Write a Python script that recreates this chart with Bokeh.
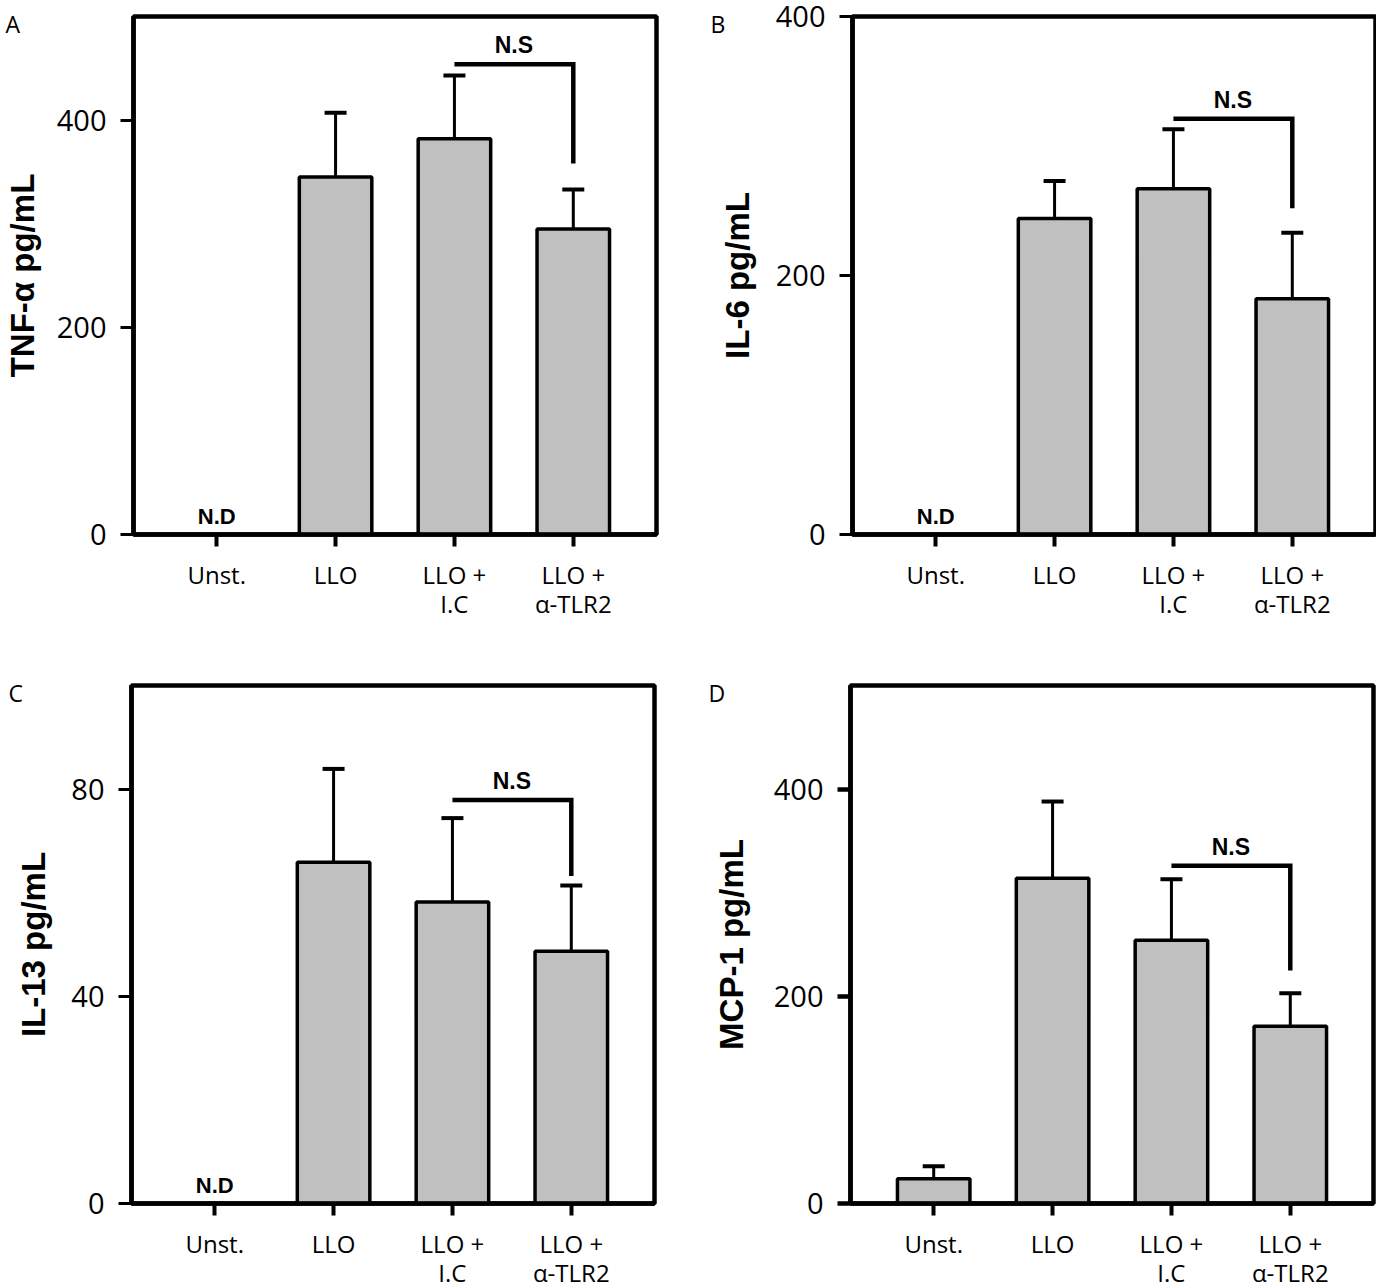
from bokeh.plotting import figure
from bokeh.layouts import column, row
from bokeh.models import FixedTicker, Range1d, ColumnDataSource, Title
from bokeh.core.properties import value
from bokeh.embed import file_html
from bokeh.resources import INLINE

# ---------------- data ----------------
categories = ["Unst.", "LLO", "LLO +\nI.C", "LLO +\n\u03b1-TLR2"]
panel_letters = ["A", "B", "C", "D"]
y_titles = ["TNF-\u03b1 pg/mL", "IL-6 pg/mL", "IL-13 pg/mL", "MCP-1 pg/mL"]

tnf_mean = [0, 345, 382, 295]
tnf_err = [0, 62, 61, 38]
il6_mean = [0, 244, 267, 182]
il6_err = [0, 29, 46, 51]
il13_mean = [0, 65.9, 58.2, 48.7]
il13_err = [0, 18.0, 16.2, 12.7]
mcp1_mean = [24, 314, 254, 171]
mcp1_err = [12, 74, 59, 32]

# detected (False -> "N.D")
tnf_detected = [False, True, True, True]
il6_detected = [False, True, True, True]
il13_detected = [False, True, True, True]
mcp1_detected = [True, True, True, True]

y_max = [500, 400, 100, 500]
y_ticks = [[0, 200, 400], [0, 200, 400], [0, 40, 80], [0, 200, 400]]

# N.S bracket between LLO + I.C and LLO + a-TLR2 (bar height, drop end)
ns_bar_y = [454, 321, 77.9, 326]
ns_drop_y = [358, 252, 63.2, 225]

means = [tnf_mean, il6_mean, il13_mean, mcp1_mean]
errs = [tnf_err, il6_err, il13_err, mcp1_err]
detected = [tnf_detected, il6_detected, il13_detected, mcp1_detected]

# ---------------- styling ----------------
FRAME_W = 523
FRAME_H = 518
X0, X1 = 0.3, 4.7
BAR_FILL = "#c0c0c0"
TICK_FONT = "Open Sans"
BOLD_FONT = "Liberation Sans"

# (border left, border right, border top, border bottom)
borders = [(131, 54, 16, 126), (142, 3, 16, 126), (131, 54, 25, 80), (142, 3, 25, 80)]
letter_offset = [-128, -142, -123, -142]
ytitle_standoff = [13, 17, 16, 21]
ytick_width = [3, 3, 3, 4.5]


def make_panel(i):
    bl, br, bt, bb = borders[i]
    ymax = y_max[i]

    p = figure(frame_width=FRAME_W, frame_height=FRAME_H,
               output_backend="svg", toolbar_location=None,
               x_range=Range1d(X0, X1), y_range=Range1d(0, ymax),
               min_border_left=bl, min_border_right=br,
               min_border_top=bt, min_border_bottom=bb)
    p.background_fill_color = "white"
    p.border_fill_color = "white"
    p.xgrid.visible = False
    p.ygrid.visible = False
    p.outline_line_color = "black"
    p.outline_line_width = 4.5

    # panel letter
    t = Title(text=panel_letters[i], align="left", offset=letter_offset[i],
              standoff=-46, text_font=TICK_FONT, text_font_style="normal",
              text_font_size="23px", text_color="black")
    p.add_layout(t, "above")

    pos = [k + 1 for k in range(len(categories))]
    m = means[i]
    e = errs[i]
    d = detected[i]

    bx = [pos[k] for k in range(len(pos)) if d[k]]
    bm = [m[k] for k in range(len(pos)) if d[k]]
    be = [m[k] + e[k] for k in range(len(pos)) if d[k]]
    src = ColumnDataSource(dict(x=bx, top=bm, etop=be))

    p.vbar(x="x", top="top", bottom=0, width=0.61, source=src,
           fill_color=BAR_FILL, line_color="black", line_width=3.5)
    p.segment(x0="x", y0="top", x1="x", y1="etop", source=src,
              line_color="black", line_width=3)
    p.scatter(x="x", y="etop", marker="dash", size=22, source=src,
              line_color="black", line_width=4)

    # N.D labels
    ndx = [pos[k] for k in range(len(pos)) if not d[k]]
    if ndx:
        p.text(x=ndx, y=[0] * len(ndx), text=["N.D"] * len(ndx),
               text_font=value(BOLD_FONT), text_font_style="bold",
               text_font_size="22px", text_align="center",
               text_baseline="bottom", y_offset=-6, text_color="black")

    # N.S bracket
    x3, x4 = pos[2], pos[3]
    p.line(x=[x3, x4, x4], y=[ns_bar_y[i], ns_bar_y[i], ns_drop_y[i]],
           line_color="black", line_width=4.5, line_join="miter")
    p.text(x=[(x3 + x4) / 2], y=[ns_bar_y[i]], text=["N.S"],
           text_font=value(BOLD_FONT), text_font_style="bold",
           text_font_size="23px", text_align="center",
           text_baseline="bottom", y_offset=-6, text_color="black")

    # y axis
    yax = p.yaxis[0]
    yax.ticker = FixedTicker(ticks=y_ticks[i])
    yax.minor_tick_line_color = None
    yax.major_tick_in = 0
    yax.major_tick_out = 13
    yax.major_tick_line_width = ytick_width[i]
    yax.major_tick_line_color = "black"
    yax.axis_line_width = 4.5
    yax.axis_line_color = "black"
    yax.major_label_text_font = TICK_FONT
    yax.major_label_text_font_size = "29px"
    yax.major_label_text_color = "black"
    yax.major_label_standoff = 14
    yax.axis_label = y_titles[i]
    yax.axis_label_text_font = BOLD_FONT
    yax.axis_label_text_font_style = "bold"
    yax.axis_label_text_font_size = "33px"
    yax.axis_label_text_color = "black"
    yax.axis_label_standoff = ytitle_standoff[i]

    # x axis
    xax = p.xaxis[0]
    xax.ticker = FixedTicker(ticks=pos)
    xax.minor_tick_line_color = None
    xax.major_tick_in = 0
    xax.major_tick_out = 12
    xax.major_tick_line_width = 4
    xax.major_tick_line_color = "black"
    xax.axis_line_width = 4.5
    xax.axis_line_color = "black"
    xax.major_label_overrides = {pos[k]: categories[k] for k in range(len(pos))}
    xax.major_label_text_font = TICK_FONT
    xax.major_label_text_font_size = "24px"
    xax.major_label_text_line_height = 0.9
    xax.major_label_text_color = "black"
    xax.major_label_standoff = 11
    return p


panels = [make_panel(i) for i in range(4)]
layout = column(row(panels[0], panels[1]), row(panels[2], panels[3]))

open("out.html", "w").write(file_html(layout, INLINE))
